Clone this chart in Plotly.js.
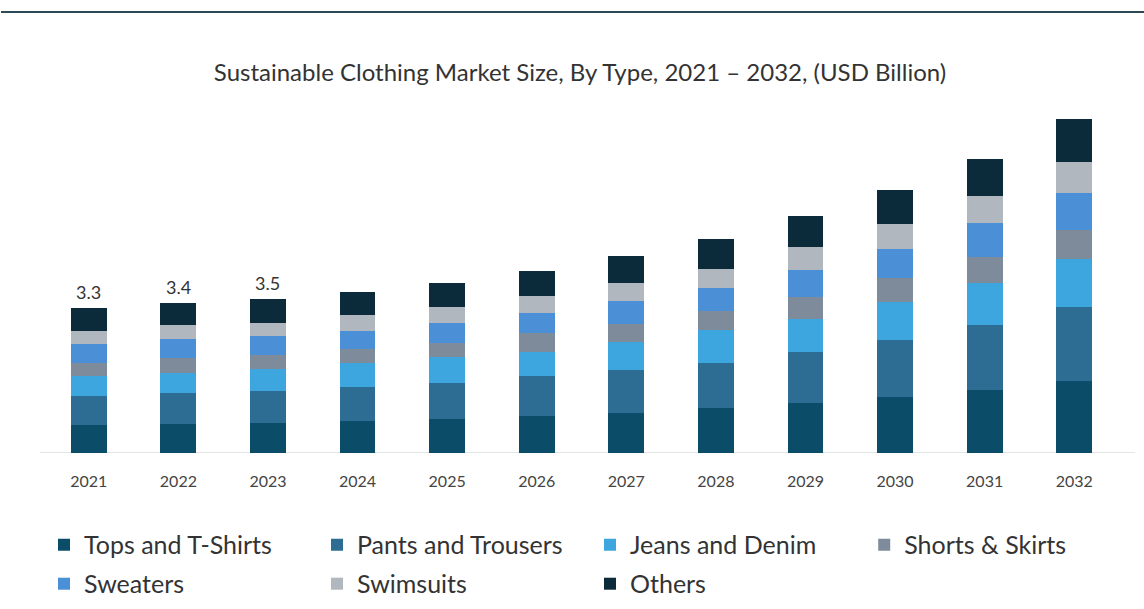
<!DOCTYPE html>
<html>
<head>
<meta charset="utf-8">
<script src="https://cdn.plot.ly/plotly-3.0.1.min.js"></script>
<style>
  html, body { margin: 0; padding: 0; background: #ffffff; }
  #chart { width: 1144px; height: 609px; }
</style>
</head>
<body>
<div id="chart"></div>
<script>
const years = [2021, 2022, 2023, 2024, 2025, 2026, 2027, 2028, 2029, 2030, 2031, 2032];
const yearLabels = ["2021","2022","2023","2024","2025","2026","2027","2028","2029","2030","2031","2032"];

const tops      = [0.64, 0.66, 0.68, 0.73, 0.77, 0.84, 0.91, 1.02, 1.14, 1.27, 1.43, 1.64];
const pants     = [0.66, 0.70, 0.73, 0.77, 0.82, 0.91, 0.98, 1.02, 1.16, 1.30, 1.48, 1.68];
const jeans     = [0.45, 0.45, 0.50, 0.55, 0.59, 0.55, 0.64, 0.75, 0.75, 0.86, 0.95, 1.09];
const shorts    = [0.30, 0.34, 0.32, 0.32, 0.32, 0.43, 0.41, 0.43, 0.50, 0.55, 0.59, 0.66];
const sweaters  = [0.43, 0.45, 0.43, 0.41, 0.45, 0.45, 0.52, 0.52, 0.61, 0.66, 0.77, 0.84];
const swimsuits = [0.30, 0.30, 0.30, 0.36, 0.36, 0.39, 0.41, 0.45, 0.52, 0.57, 0.61, 0.70];
const others    = [0.52, 0.50, 0.55, 0.52, 0.55, 0.57, 0.61, 0.68, 0.70, 0.77, 0.86, 0.98];

const totalLabels = ["3.3", "3.4", "3.5", "", "", "", "", "", "", "", "", ""];

const seriesNames = ["Tops and T-Shirts", "Pants and Trousers", "Jeans and Denim", "Shorts & Skirts", "Sweaters", "Swimsuits", "Others"];
const seriesValues = [tops, pants, jeans, shorts, sweaters, swimsuits, others];
const seriesColors = ["#0b4d69", "#2d6c93", "#3ea6df", "#7d8b9b", "#4b8fd6", "#b1b7be", "#0b2b3b"];
const seriesLegendRow = ["legend", "legend", "legend", "legend3", "legend2", "legend2", "legend2"];

const traces = seriesNames.map((name, i) => ({
  type: "bar",
  name: name,
  x: years,
  y: seriesValues[i],
  legend: seriesLegendRow[i],
  marker: { color: seriesColors[i], line: { width: 0 } },
  hoverinfo: "name+y"
}));

const totals = years.map((_, j) => seriesValues.reduce((s, arr) => s + arr[j], 0));

const annotations = years.map((yr, j) => ({
  x: yr, y: totals[j], xref: "x", yref: "y", text: totalLabels[j],
  showarrow: false, yanchor: "bottom", yshift: 3,
  font: { family: "Lato, sans-serif", size: 18, color: "#333333" }
})).filter(a => a.text !== "");

const legendFont = { family: "Lato, sans-serif", size: 25, color: "#333333" };
const legendBase = {
  orientation: "h",
  x: 0.0, xanchor: "left",
  yanchor: "middle",
  traceorder: "normal",
  entrywidth: 228, entrywidthmode: "pixels",
  font: legendFont,
  bgcolor: "rgba(0,0,0,0)",
  tracegroupgap: 0
};

const layout = {
  width: 1144, height: 609,
  paper_bgcolor: "#ffffff", plot_bgcolor: "#ffffff",
  margin: { l: 44, r: 25, t: 100, b: 156, autoexpand: false },
  barmode: "stack",
  bargap: 0.6,
  title: {
    text: "Sustainable Clothing Market Size, By Type, 2021 – 2032, (USD Billion)",
    font: { family: "Lato, sans-serif", size: 24, color: "#333333" },
    x: 0.507, xanchor: "center", y: 0.88, yanchor: "middle"
  },
  xaxis: {
    type: "linear",
    range: [2020.5, 2032.5],
    tickmode: "array", tickvals: years, ticktext: yearLabels,
    showgrid: false, zeroline: false,
    showline: false,
    ticks: "", ticklen: 0,
    ticklabelstandoff: 17,
    tickfont: { family: "Lato, sans-serif", size: 16, color: "#444444" },
    automargin: false, fixedrange: true
  },
  yaxis: {
    range: [0, 8.02],
    visible: false, showgrid: false, zeroline: false, fixedrange: true
  },
  showlegend: true,
  legend: Object.assign({}, legendBase, { y: -0.2606 }),
  legend3: Object.assign({}, legendBase, { y: -0.2606, x: 0.763 }),
  legend2: Object.assign({}, legendBase, { y: -0.371 }),
  annotations: annotations,
  shapes: [
    { type: "line", xref: "paper", yref: "paper", x0: -0.04, x1: 1.03, y0: 1.249, y1: 1.249,
      line: { color: "#2b4a56", width: 2 } },
    { type: "line", xref: "paper", yref: "y", x0: -0.004, x1: 1.015, y0: 0, y1: 0,
      layer: "below", line: { color: "#dcdcdc", width: 1.5 } }
  ]
};

Plotly.newPlot("chart", traces, layout, { displayModeBar: false, staticPlot: true });
</script>
</body>
</html>
